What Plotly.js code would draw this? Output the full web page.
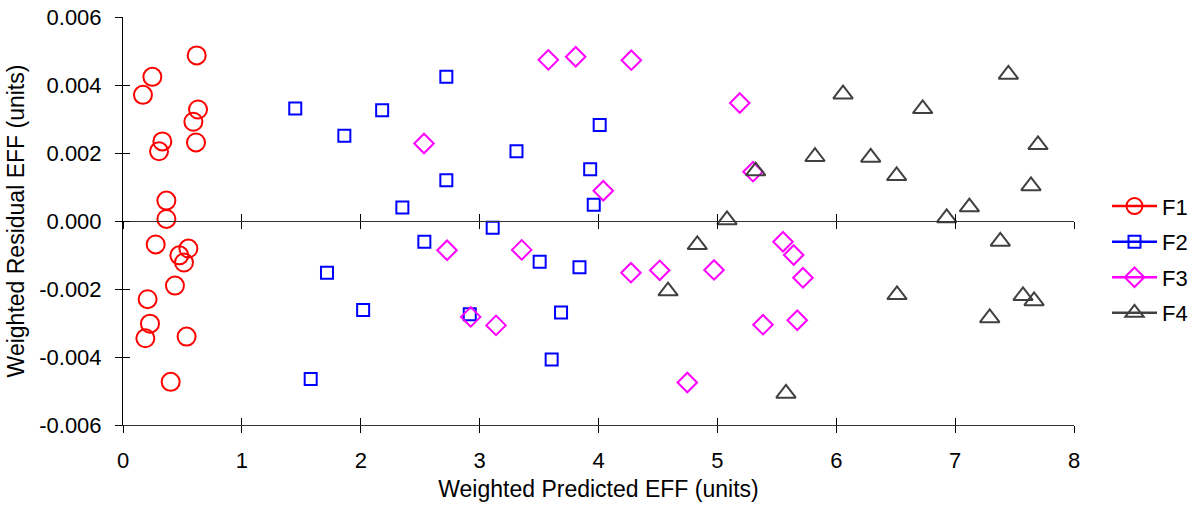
<!DOCTYPE html>
<html>
<head>
<meta charset="utf-8">
<script src="https://cdn.plot.ly/plotly-3.0.1.min.js"></script>
<style>html,body{margin:0;padding:0;background:#fff;}#chart{width:1193px;height:510px;}</style>
</head>
<body>
<div id="chart"></div>
<script>
const seriesNames = ['F1', 'F2', 'F3', 'F4'];

const f1X = [0.62, 0.247, 0.168, 0.631, 0.592, 0.331, 0.303, 0.614, 0.365, 0.365, 0.275, 0.55, 0.474, 0.513, 0.437, 0.207, 0.227, 0.188, 0.535, 0.401];
const f1Y = [0.00487, 0.00424, 0.00371, 0.00328, 0.00292, 0.00234, 0.00205, 0.00231, 0.00060, 0.00006, -0.00069, -0.00081, -0.00101, -0.00122, -0.00190, -0.00230, -0.00302, -0.00345, -0.00340, -0.00473];

const f2X = [1.449, 2.72, 2.18, 1.862, 4.01, 3.31, 3.93, 2.72, 2.35, 3.96, 3.11, 2.535, 3.505, 3.84, 1.716, 2.02, 2.917, 3.685, 3.606, 1.579];
const f2Y = [0.00331, 0.00424, 0.00326, 0.00251, 0.00282, 0.00205, 0.00152, 0.00120, 0.00040, 0.00048, -0.00020, -0.00061, -0.00120, -0.00136, -0.00152, -0.00262, -0.00274, -0.00269, -0.00407, -0.00465];

const f3X = [3.578, 3.808, 4.276, 2.532, 4.04, 2.726, 3.354, 4.273, 2.925, 3.138, 5.188, 5.30, 4.515, 4.972, 5.552, 5.642, 5.72, 5.384, 5.672, 4.747];
const f3Y = [0.00474, 0.00483, 0.00473, 0.00228, 0.00089, -0.00086, -0.00085, -0.00152, -0.00282, -0.00307, 0.00347, 0.00145, -0.00145, -0.00144, -0.00061, -0.00100, -0.00167, -0.00305, -0.00292, -0.00475];

const f4X = [7.448, 6.057, 6.727, 7.697, 5.821, 6.29, 6.508, 5.322, 7.638, 7.12, 6.929, 5.081, 7.38, 4.831, 4.585, 6.511, 7.571, 7.664, 7.291, 5.577];
const f4Y = [0.00431, 0.00373, 0.00330, 0.00224, 0.00189, 0.00187, 0.00133, 0.00147, 0.00103, 0.00041, 0.00009, 0.00003, -0.00060, -0.00070, -0.00206, -0.00217, -0.00220, -0.00235, -0.00285, -0.00507];

const xTickVals = [0, 1, 2, 3, 4, 5, 6, 7, 8];
const yTickVals = [-0.006, -0.004, -0.002, 0, 0.002, 0.004, 0.006];
const yTickText = ['-0.006', '-0.004', '-0.002', '0.000', '0.002', '0.004', '0.006'];

const styles = [
  {symbol: 'circle-open', color: '#ff0000', size: 18},
  {symbol: 'square-open', color: '#0000ff', size: 12},
  {symbol: 'diamond-open', color: '#ff00ff', size: 15},
  {symbol: 'triangle-up-open', color: '#404040', size: 17}
];
const xs = [f1X, f2X, f3X, f4X];
const ys = [f1Y, f2Y, f3Y, f4Y];

const traces = [];
for (let i = 0; i < 4; i++) {
  const s = styles[i];
  traces.push({
    type: 'scatter', mode: 'markers', x: xs[i], y: ys[i], name: seriesNames[i],
    showlegend: false, cliponaxis: false,
    marker: {symbol: s.symbol, size: s.size, color: s.color, line: {color: s.color, width: 2}}
  });
}
for (let i = 0; i < 4; i++) {
  const s = styles[i];
  traces.push({
    type: 'scatter', mode: 'lines+markers', x: [null], y: [null], name: seriesNames[i],
    legendgroup: 'g' + i, showlegend: true,
    line: {color: s.color, width: 2.5},
    marker: {symbol: s.symbol, size: s.size, color: s.color, line: {color: s.color, width: 2}}
  });
}

const FS = 22;
const TS = 23;
const XD = [0, 951 / 1070];
const font = {family: 'Liberation Sans, Arial, sans-serif', size: FS, color: '#000'};
const axBase = {range: [0, 8], domain: XD, tickvals: xTickVals, showgrid: false, zeroline: false, fixedrange: true};
const layout = {
  width: 1193, height: 510,
  margin: {l: 123, r: 0, t: 17, b: 85},
  paper_bgcolor: '#fff', plot_bgcolor: 'rgba(0,0,0,0)',
  font: font,
  showlegend: true,
  legend: {x: (1107 - 123) / 1070, xanchor: 'left', y: 0.405, yanchor: 'middle', itemwidth: 45, font: {size: FS, color: '#000'}, tracegroupgap: 4, bgcolor: 'rgba(0,0,0,0)', borderwidth: 0},
  xaxis: Object.assign({}, axBase, {
    anchor: 'y', showline: true, linecolor: '#333', linewidth: 1,
    ticks: 'outside', ticklen: 7, tickcolor: '#000', tickwidth: 1,
    tickfont: {size: FS}, ticklabelstandoff: 9,
    title: {text: 'Weighted Predicted EFF (units)', font: {size: TS}, standoff: 8}
  }),
  xaxis2: Object.assign({}, axBase, {
    overlaying: 'x', anchor: 'y', side: 'bottom', showline: false,
    ticks: 'inside', ticklen: 7, tickcolor: '#000', showticklabels: false
  }),
  xaxis3: Object.assign({}, axBase, {
    overlaying: 'x', anchor: 'free', position: 0.5, side: 'bottom', showline: true, linecolor: '#333', linewidth: 1,
    ticks: 'outside', ticklen: 7, tickcolor: '#000', showticklabels: false
  }),
  xaxis4: Object.assign({}, axBase, {
    overlaying: 'x', anchor: 'free', position: 0.5, side: 'bottom', showline: false,
    ticks: 'inside', ticklen: 7, tickcolor: '#000', showticklabels: false
  }),
  yaxis: {
    range: [-0.006, 0.006], tickvals: yTickVals, ticktext: yTickText, anchor: 'x',
    showgrid: false, zeroline: false, fixedrange: true,
    showline: true, linecolor: '#000', linewidth: 1,
    ticks: 'outside', ticklen: 7, tickcolor: '#000', tickfont: {size: FS}, ticklabelstandoff: 9,
    title: {text: 'Weighted Residual EFF (units)', font: {size: TS}, standoff: 8}
  },
  yaxis2: {
    range: [-0.006, 0.006], tickvals: yTickVals, overlaying: 'y', anchor: 'x', side: 'left',
    showgrid: false, zeroline: false, showline: false, fixedrange: true,
    ticks: 'inside', ticklen: 7, tickcolor: '#000', showticklabels: false
  }
};

// dummy traces to register the overlay axes
['x2', 'x3', 'x4'].forEach(function (ax) {
  traces.push({type: 'scatter', mode: 'markers', x: [null], y: [null], xaxis: ax, yaxis: 'y', showlegend: false, hoverinfo: 'skip'});
});
traces.push({type: 'scatter', mode: 'markers', x: [null], y: [null], xaxis: 'x', yaxis: 'y2', showlegend: false, hoverinfo: 'skip'});

Plotly.newPlot('chart', traces, layout, {staticPlot: true, displayModeBar: false});
</script>
</body>
</html>
